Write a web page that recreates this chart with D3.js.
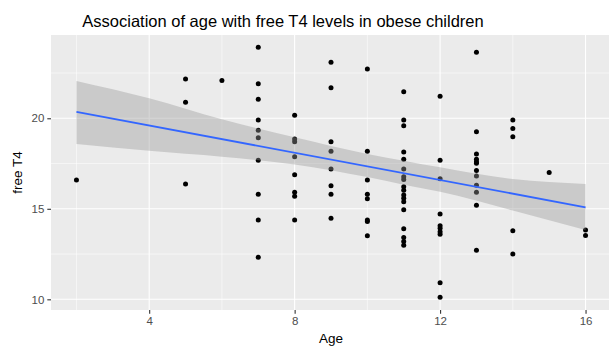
<!DOCTYPE html>
<html>
<head>
<meta charset="utf-8">
<script src="https://cdn.jsdelivr.net/npm/d3@7"></script>
<style>
  body { margin: 0; background: #fff; }
  svg { display: block; font-family: "Liberation Sans", Arial, sans-serif; }
</style>
</head>
<body>
<div id="chart"></div>
<script>
// age (years) and free T4 for each child
var ages = [2,
  5, 5, 5,
  6,
  7, 7, 7, 7, 7, 7, 7, 7, 7, 7,
  8, 8, 8, 8, 8, 8, 8, 8,
  9, 9, 9, 9, 9, 9, 9, 9,
  10, 10, 10, 10, 10, 10, 10, 10,
  11, 11, 11, 11, 11, 11, 11, 11, 11, 11, 11, 11, 11, 11, 11, 11, 11, 11,
  12, 12, 12, 12, 12, 12, 12, 12, 12, 12,
  13, 13, 13, 13, 13, 13, 13, 13, 13, 13, 13, 13,
  14, 14, 14, 14, 14,
  15,
  16, 16];
var ft4 = [16.59,
  22.17, 20.88, 16.37,
  22.08,
  23.92, 21.91, 21.05, 19.91, 19.34, 18.93, 17.68, 15.80, 14.38, 12.32,
  20.17, 18.86, 18.71, 17.88, 16.88, 15.92, 15.69, 14.38,
  23.09, 21.69, 18.71, 18.18, 17.20, 16.28, 15.80, 14.48,
  22.72, 18.18, 16.59, 15.80, 15.55, 14.38, 14.30, 13.51,
  21.47, 19.91, 19.59, 18.14, 17.73, 17.20, 16.77, 16.62, 16.22, 16.02, 15.76, 15.58, 15.39, 14.95, 13.90, 13.42, 13.20, 12.98,
  21.22, 17.68, 16.66, 14.71, 14.07, 13.92, 13.73, 13.59, 10.92, 10.11,
  23.65, 19.26, 18.03, 17.73, 17.60, 17.51, 17.11, 16.81, 16.30, 15.91, 15.19, 12.71,
  19.91, 19.43, 18.98, 13.79, 12.50,
  17.00,
  13.83, 13.52];

// linear fit and its confidence band
var fitX    = [2, 4, 6, 8, 10, 11, 12, 14, 16];
var fitLow  = [18.58, 18.21, 17.88, 17.45, 16.75, 16.33, 15.94, 14.90, 13.83];
var fitHigh = [22.06, 21.10, 19.94, 18.95, 18.03, 17.66, 17.29, 16.64, 16.37];
var lineX = [2, 16];
var lineY = [20.36, 15.08];

var xTicks = [4, 8, 12, 16], xMinor = [2, 6, 10, 14];
var yTicks = [10, 15, 20], yMinor = [12.5, 17.5, 22.5];

var width = 609, height = 347;
var margin = {left: 51, right: 611, top: 35, bottom: 310};

var svg = d3.select("#chart").append("svg")
  .attr("width", width).attr("height", height);

var x = d3.scaleLinear().domain([1.3, 16.7]).range([margin.left, margin.right]);
var y = d3.scaleLinear().domain([9.41, 24.6]).range([margin.bottom, margin.top]);

svg.append("rect")
  .attr("x", margin.left).attr("y", margin.top)
  .attr("width", margin.right - margin.left).attr("height", margin.bottom - margin.top)
  .attr("fill", "#EBEBEB");

var g = svg.append("g");

// minor grid
g.selectAll("line.xminor").data(xMinor).enter().append("line")
  .attr("x1", d => x(d)).attr("x2", d => x(d))
  .attr("y1", margin.top).attr("y2", margin.bottom)
  .attr("stroke", "#fff").attr("stroke-width", 0.55);
g.selectAll("line.yminor").data(yMinor).enter().append("line")
  .attr("y1", d => y(d)).attr("y2", d => y(d))
  .attr("x1", margin.left).attr("x2", margin.right)
  .attr("stroke", "#fff").attr("stroke-width", 0.55);
// major grid
g.selectAll("line.xmajor").data(xTicks).enter().append("line")
  .attr("x1", d => x(d)).attr("x2", d => x(d))
  .attr("y1", margin.top).attr("y2", margin.bottom)
  .attr("stroke", "#fff").attr("stroke-width", 1.1);
g.selectAll("line.ymajor").data(yTicks).enter().append("line")
  .attr("y1", d => y(d)).attr("y2", d => y(d))
  .attr("x1", margin.left).attr("x2", margin.right)
  .attr("stroke", "#fff").attr("stroke-width", 1.1);

// points
g.selectAll("circle").data(ages).enter().append("circle")
  .attr("cx", d => x(d))
  .attr("cy", (d, i) => y(ft4[i]))
  .attr("r", 2.5)
  .attr("fill", "#000");

// confidence band drawn over the points, like geom_smooth
var band = d3.area()
  .x(d => x(d))
  .y0((d, i) => y(fitLow[i]))
  .y1((d, i) => y(fitHigh[i]))
  .curve(d3.curveMonotoneX);
g.append("path")
  .datum(fitX)
  .attr("d", band)
  .attr("fill", "#999999")
  .attr("fill-opacity", 0.4);

g.append("path")
  .datum(lineX)
  .attr("d", d3.line().x(d => x(d)).y((d, i) => y(lineY[i])))
  .attr("stroke", "#3366FF")
  .attr("stroke-width", 1.8)
  .attr("fill", "none");

// axes
var xAxis = svg.append("g")
  .attr("transform", "translate(0," + margin.bottom + ")")
  .call(d3.axisBottom(x).tickValues(xTicks).tickSize(3.7).tickPadding(3));
var yAxis = svg.append("g")
  .attr("transform", "translate(" + margin.left + ",0)")
  .call(d3.axisLeft(y).tickValues(yTicks).tickSize(3.7).tickPadding(3));
[xAxis, yAxis].forEach(function(a) {
  a.select(".domain").remove();
  a.selectAll(".tick line").attr("stroke", "#333333").attr("stroke-width", 1.1);
  a.selectAll(".tick text")
    .attr("fill", "#4D4D4D")
    .style("font-size", "11.5px")
    .style("font-family", "'Liberation Sans', Arial, sans-serif");
});

svg.append("text")
  .attr("x", 283).attr("y", 27)
  .attr("text-anchor", "middle")
  .style("font-size", "16.5px")
  .attr("fill", "#000")
  .text("Association of age with free T4 levels in obese children");

svg.append("text")
  .attr("x", 331).attr("y", 343)
  .attr("text-anchor", "middle")
  .style("font-size", "13.5px")
  .text("Age");

svg.append("text")
  .attr("transform", "translate(22," + ((margin.top + margin.bottom) / 2) + ") rotate(-90)")
  .attr("text-anchor", "middle")
  .style("font-size", "13.5px")
  .text("free T4");
</script>
</body>
</html>
